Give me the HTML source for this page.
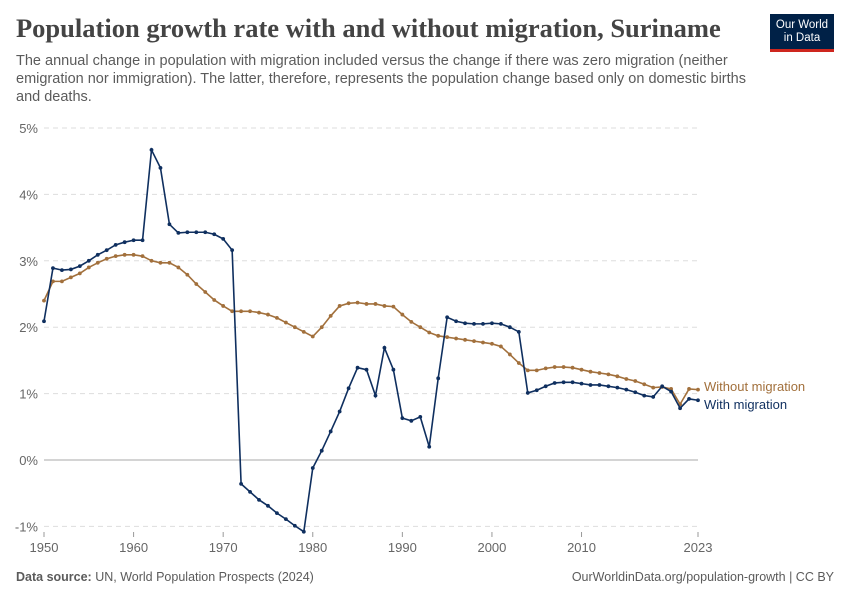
<!DOCTYPE html>
<html><head><meta charset="utf-8"><style>
body{margin:0;background:#fff;width:850px;height:600px;overflow:hidden;font-family:"Liberation Sans",sans-serif}
.title{position:absolute;left:16px;top:13px;font-family:"Liberation Serif",serif;font-weight:bold;font-size:26.5px;color:#444}
.sub{position:absolute;left:16px;top:52px;width:740px;font-size:14.5px;line-height:18px;color:#5b5b5b}
.logo{position:absolute;left:770px;top:14px;width:64px;height:38px;background:#002147;color:#fff;font-size:11.5px;line-height:13px;text-align:center;padding-top:5px;box-sizing:border-box;border-bottom:3px solid #ce261e}
.foot{position:absolute;top:570px;font-size:12.5px;color:#5b5b5b}
</style></head><body>
<div class="title">Population growth rate with and without migration, Suriname</div>
<div class="sub">The annual change in population with migration included versus the change if there was zero migration (neither emigration nor immigration). The latter, therefore, represents the population change based only on domestic births and deaths.</div>
<div class="logo">Our World<br>in Data</div>
<svg id="chart" width="850" height="600" style="position:absolute;left:0;top:0"></svg>
<div class="foot" style="left:16px"><b>Data source:</b> UN, World Population Prospects (2024)</div>
<div class="foot" style="right:16px">OurWorldinData.org/population-growth | CC BY</div>
<script>
const startYear = 1950;
const withMigration = [2.09,2.89,2.86,2.87,2.92,3.0,3.09,3.16,3.24,3.28,3.31,3.31,4.67,4.40,3.55,3.42,3.43,3.43,3.43,3.40,3.33,3.16,-0.36,-0.48,-0.6,-0.69,-0.8,-0.89,-0.99,-1.08,-0.12,0.14,0.43,0.73,1.08,1.39,1.36,0.97,1.69,1.36,0.63,0.59,0.65,0.2,1.23,2.15,2.09,2.06,2.05,2.05,2.06,2.05,2.0,1.93,1.01,1.05,1.11,1.16,1.17,1.17,1.15,1.13,1.13,1.11,1.09,1.06,1.02,0.97,0.95,1.11,1.03,0.78,0.92,0.9];
const withoutMigration = [2.40,2.69,2.69,2.75,2.81,2.90,2.97,3.03,3.07,3.09,3.09,3.07,3.0,2.97,2.97,2.90,2.79,2.65,2.53,2.41,2.32,2.24,2.24,2.24,2.22,2.19,2.14,2.07,2.0,1.93,1.86,2.0,2.17,2.32,2.36,2.37,2.35,2.35,2.32,2.31,2.19,2.08,2.0,1.92,1.87,1.85,1.83,1.81,1.79,1.77,1.75,1.71,1.59,1.46,1.35,1.35,1.38,1.40,1.40,1.39,1.36,1.33,1.31,1.29,1.26,1.22,1.19,1.14,1.09,1.10,1.07,0.84,1.07,1.06];
const yTicks = [-1,0,1,2,3,4,5];
const xTicks = [1950,1960,1970,1980,1990,2000,2010,2023];
const NS='http://www.w3.org/2000/svg';
const svg=document.getElementById('chart');
const X=y=>44+(y-1950)*(654/73);
const Y=v=>460-v*66.4;
function mk(t,a){const e=document.createElementNS(NS,t);for(const k in a)e.setAttribute(k,a[k]);svg.appendChild(e);return e;}
yTicks.forEach(t=>{
  const l=mk('line',{x1:44,x2:698,y1:Y(t),y2:Y(t),stroke:t===0?'#aaa':'#ddd','stroke-dasharray':t===0?'':'5,4'});
  
  
  const tx=mk('text',{x:38,y:Y(t)+5,'text-anchor':'end','font-size':13,fill:'#666','font-family':'Liberation Sans'});
  tx.textContent=t+'%';
  
  
});
xTicks.forEach(t=>{
  const l=mk('line',{x1:X(t),x2:X(t),y1:532,y2:537,stroke:'#999'});
  
  
  const tx=mk('text',{x:X(t),y:552,'text-anchor':'middle','font-size':13,fill:'#666','font-family':'Liberation Sans'});
  tx.textContent=t;
  
  
});
function series(vals,color,name){
  const pts=vals.map((v,i)=>X(startYear+i)+','+Y(v)).join(' ');
  const p=mk('polyline',{points:pts,fill:'none',stroke:color,'stroke-width':1.6});
  
  
  vals.forEach((v,i)=>{
    const c=mk('circle',{cx:X(startYear+i),cy:Y(v),r:1.9,fill:color});
    
    
  });
}
series(withoutMigration,'#a2703c','without-migration');
series(withMigration,'#0f2f5f','with-migration');
const l1=mk('text',{x:704,y:391,'font-size':13,fill:'#a2703c','font-family':'Liberation Sans'});
l1.textContent='Without migration';


const l2=mk('text',{x:704,y:409,'font-size':13,fill:'#0f2f5f','font-family':'Liberation Sans'});
l2.textContent='With migration';


</script>
</body></html>
